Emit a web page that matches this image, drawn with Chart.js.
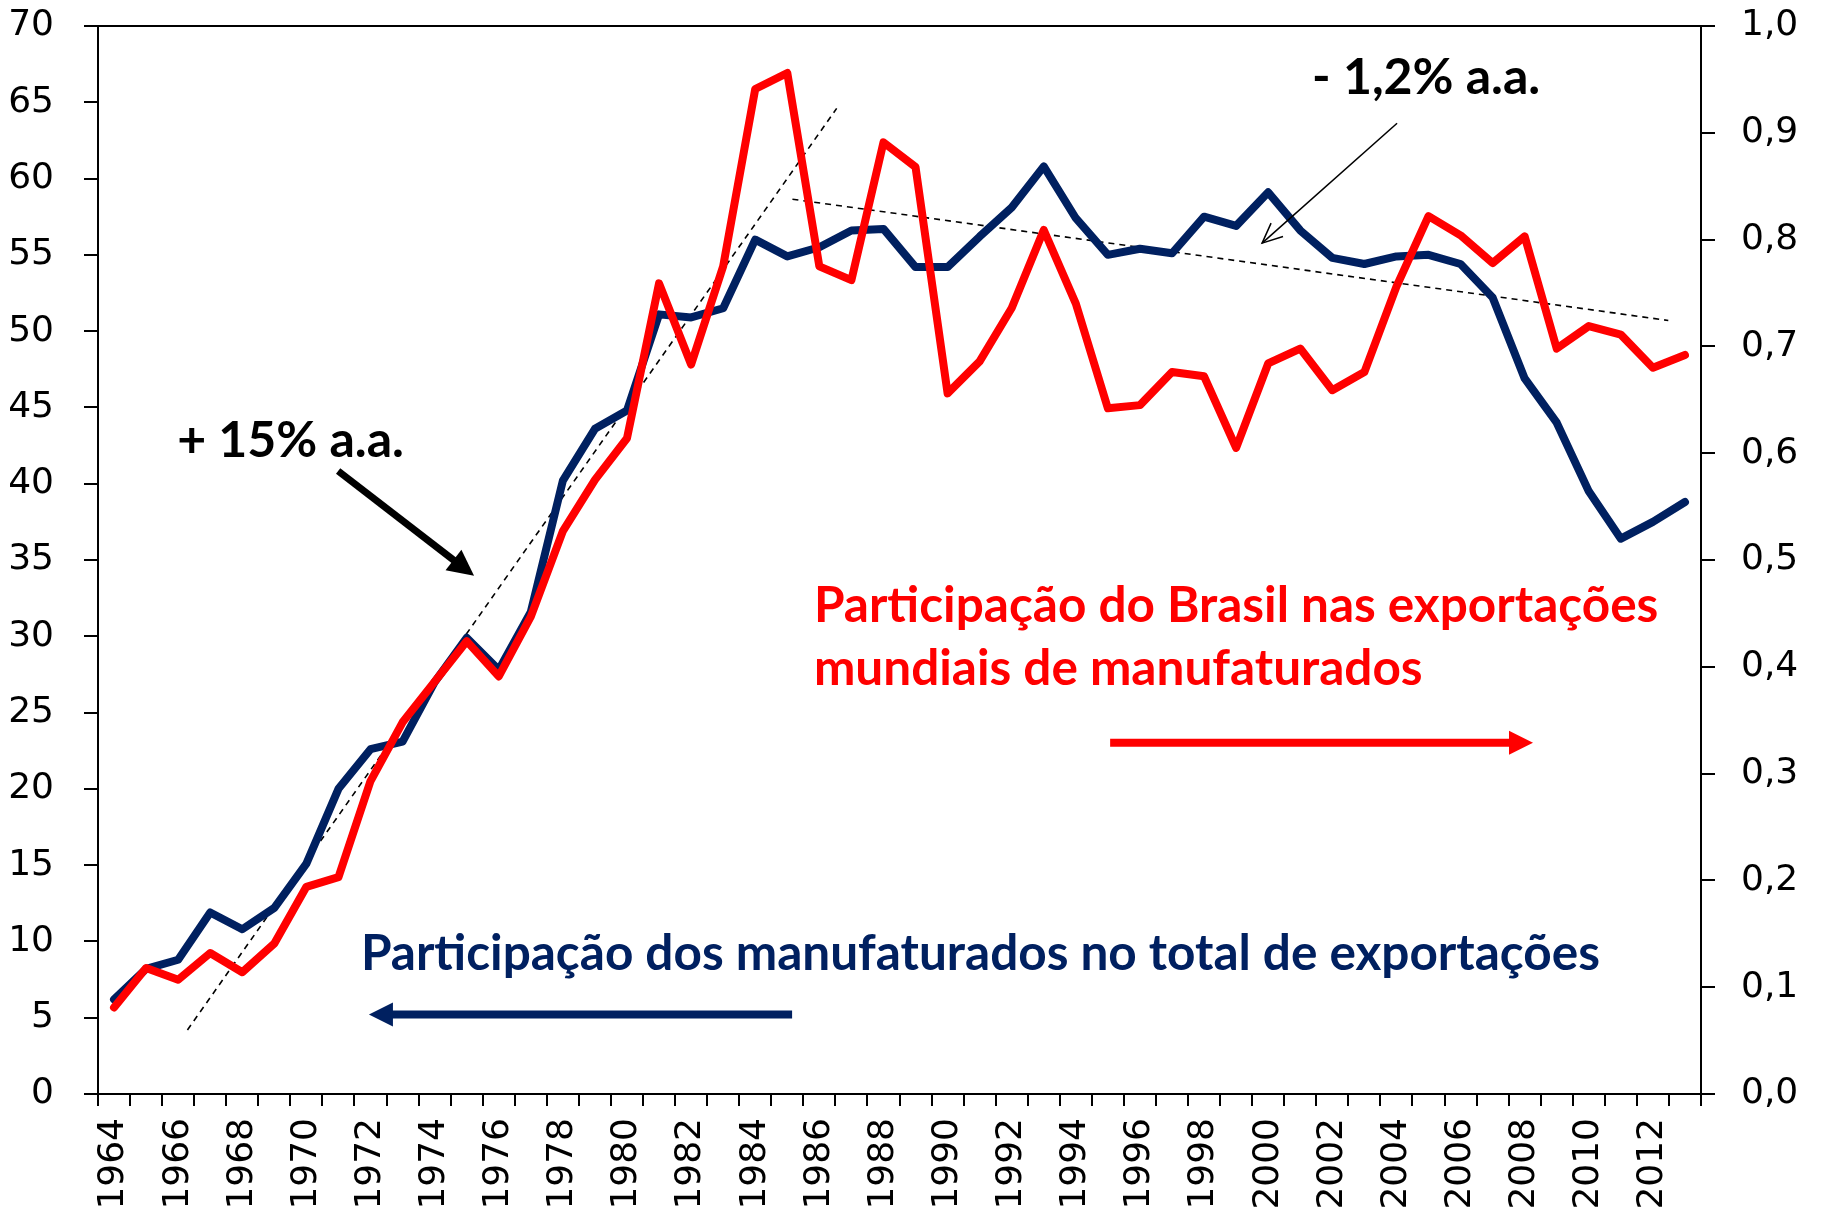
<!DOCTYPE html>
<html>
<head>
<meta charset="utf-8">
<script src="https://cdn.jsdelivr.net/npm/chart.js@4.4.1/dist/chart.umd.min.js"></script>
<style>
  html, body { margin: 0; padding: 0; background: #fff; }
  #wrap { width: 1825px; height: 1218px; position: relative; }
</style>
</head>
<body>
<div id="wrap"><canvas id="exportChart"></canvas></div>
<script>
const years = ['1964','1965','1966','1967','1968','1969','1970','1971','1972','1973',
  '1974','1975','1976','1977','1978','1979','1980','1981','1982','1983',
  '1984','1985','1986','1987','1988','1989','1990','1991','1992','1993',
  '1994','1995','1996','1997','1998','1999','2000','2001','2002','2003',
  '2004','2005','2006','2007','2008','2009','2010','2011','2012','2013'];

// share of manufactured goods in Brazil's total exports (%) - left axis
const manufShare = [6.2, 8.2, 8.8, 11.9, 10.8, 12.2, 15.1, 20.0, 22.6, 23.1,
  27.0, 29.9, 27.8, 31.6, 40.2, 43.6, 44.8, 51.1, 50.9, 51.5,
  56.0, 54.9, 55.5, 56.6, 56.7, 54.2, 54.2, 56.2, 58.1, 60.8,
  57.4, 55.0, 55.4, 55.1, 57.5, 56.9, 59.1, 56.6, 54.8, 54.4,
  54.9, 55.0, 54.4, 52.2, 46.9, 44.0, 39.5, 36.4, 37.5, 38.8];

// Brazil's share of world manufactured exports (%) - right axis
const worldShare = [0.081, 0.118, 0.107, 0.132, 0.114, 0.141, 0.194, 0.203, 0.293, 0.348,
  0.386, 0.424, 0.391, 0.447, 0.527, 0.575, 0.614, 0.759, 0.683, 0.775,
  0.941, 0.956, 0.775, 0.762, 0.891, 0.868, 0.656, 0.686, 0.736, 0.809,
  0.740, 0.642, 0.645, 0.676, 0.672, 0.605, 0.684, 0.698, 0.659, 0.676,
  0.756, 0.822, 0.804, 0.778, 0.803, 0.698, 0.719, 0.711, 0.680, 0.692];

// dashed trend lines (fractional year, left axis value)
const trendUpX = [1966.29, 1986.54];
const trendUpY = [4.2, 64.6];
const trendDownX = [1985.16, 2012.48];
const trendDownY = [58.65, 50.7];

const leftTicks = [0, 70, 5];
const rightTicks = [0, 1, 0.1];

const NAVY = '#002060';
const RED = '#ff0000';
const tickFont = { family: 'DejaVu Sans', size: 36 };

function pts(xs, ys) {
  return xs.map((x, i) => ({ x: x, y: ys[i] }));
}

function arrowHead(ctx, x1, y1, x2, y2, len, half, filled) {
  const a = Math.atan2(y2 - y1, x2 - x1);
  const bx = x2 - len * Math.cos(a), by = y2 - len * Math.sin(a);
  const px = -Math.sin(a) * half, py = Math.cos(a) * half;
  ctx.beginPath();
  ctx.moveTo(bx + px, by + py);
  ctx.lineTo(x2, y2);
  ctx.lineTo(bx - px, by - py);
  if (filled) { ctx.closePath(); ctx.fill(); } else { ctx.stroke(); }
}

// vertical axes: no extra room above/below for the end labels
function fitVertical(width) {
  return function (s) {
    s.width = width;
    s.paddingTop = 0;
    s.paddingBottom = 0;
  };
}

// texts and arrows, placed in data coordinates
const notes = {
  id: 'notes',
  afterDatasetsDraw(chart) {
    const ctx = chart.ctx;
    const xs = chart.scales.x2, ys = chart.scales.y;
    const X = v => xs.getPixelForValue(v), Y = v => ys.getPixelForValue(v);
    const area = chart.chartArea;
    ctx.save();

    // top frame line
    ctx.strokeStyle = '#000';
    ctx.lineWidth = 2;
    ctx.beginPath();
    ctx.moveTo(area.left, area.top);
    ctx.lineTo(area.right, area.top);
    ctx.stroke();

    ctx.textBaseline = 'alphabetic';
    ctx.textAlign = 'left';

    ctx.fillStyle = '#000';
    ctx.font = 'bold 50px Lato';
    ctx.fillText('+ 15% a.a.', X(1965.97), Y(41.75));
    ctx.fillText('- 1,2% a.a.', X(2001.37), Y(65.57));

    ctx.fillStyle = RED;
    ctx.font = 'bold 49.5px Lato';
    ctx.fillText('Participação do Brasil nas exportações', X(1985.83), Y(30.96));
    ctx.fillText('mundiais de manufaturados', X(1985.83), Y(26.82));

    ctx.fillStyle = NAVY;
    ctx.fillText('Participação dos manufaturados no total de exportações', X(1971.70), Y(8.15));

    // thick black arrow to the rising trend
    let x1 = X(1970.99), y1 = Y(40.83), x2 = X(1975.23), y2 = Y(33.96);
    let a = Math.atan2(y2 - y1, x2 - x1);
    ctx.strokeStyle = '#000';
    ctx.fillStyle = '#000';
    ctx.lineWidth = 7;
    ctx.beginPath();
    ctx.moveTo(x1, y1);
    ctx.lineTo(x2 - 18 * Math.cos(a), y2 - 18 * Math.sin(a));
    ctx.stroke();
    arrowHead(ctx, x1, y1, x2, y2, 26, 13, true);

    // thin arrow to the falling trend
    x1 = X(2004.02); y1 = Y(63.63); x2 = X(1999.81); y2 = Y(55.77);
    ctx.lineWidth = 1.5;
    ctx.beginPath();
    ctx.moveTo(x1, y1);
    ctx.lineTo(x2, y2);
    ctx.stroke();
    arrowHead(ctx, x1, y1, x2, y2, 20, 9, false);

    // red arrow -> right axis
    ctx.strokeStyle = RED; ctx.fillStyle = RED; ctx.lineWidth = 8;
    x1 = X(1995.07); x2 = X(2008.26); y1 = y2 = Y(23.02);
    ctx.beginPath(); ctx.moveTo(x1, y1); ctx.lineTo(x2 - 20, y2); ctx.stroke();
    arrowHead(ctx, x1, y1, x2, y2, 24, 12, true);

    // navy arrow -> left axis
    ctx.strokeStyle = NAVY; ctx.fillStyle = NAVY;
    x1 = X(1985.15); x2 = X(1971.95); y1 = y2 = Y(5.21);
    ctx.beginPath(); ctx.moveTo(x1, y1); ctx.lineTo(x2 + 20, y2); ctx.stroke();
    arrowHead(ctx, x1, y1, x2, y2, 24, 12, true);

    ctx.restore();
  }
};

const ctx = document.getElementById('exportChart').getContext('2d');
const chart = new Chart(ctx, {
  type: 'line',
  data: {
    labels: years,
    datasets: [
      {
        label: 'Participação do Brasil nas exportações mundiais de manufaturados',
        data: worldShare,
        yAxisID: 'y1',
        xAxisID: 'x',
        borderColor: RED,
        borderWidth: 8,
        pointRadius: 0,
        borderJoinStyle: 'round',
        borderCapStyle: 'round',
        tension: 0
      },
      {
        label: 'Participação dos manufaturados no total de exportações',
        data: manufShare,
        yAxisID: 'y',
        xAxisID: 'x',
        borderColor: NAVY,
        borderWidth: 8,
        pointRadius: 0,
        borderJoinStyle: 'round',
        borderCapStyle: 'round',
        tension: 0
      },
      {
        label: 'tendência 1',
        data: pts(trendUpX, trendUpY),
        xAxisID: 'x2',
        yAxisID: 'y',
        borderColor: '#000',
        borderWidth: 1.6,
        borderDash: [6, 5],
        pointRadius: 0
      },
      {
        label: 'tendência 2',
        data: pts(trendDownX, trendDownY),
        xAxisID: 'x2',
        yAxisID: 'y',
        borderColor: '#000',
        borderWidth: 1.6,
        borderDash: [6, 5],
        pointRadius: 0
      }
    ]
  },
  options: {
    responsive: true,
    maintainAspectRatio: false,
    animation: false,
    layout: { padding: { top: 26, left: 0, right: 0, bottom: 0 } },
    plugins: { legend: { display: false }, tooltip: { enabled: false } },
    scales: {
      x: {
        type: 'category',
        offset: true,
        grid: { offset: true, drawOnChartArea: false, color: '#000', lineWidth: 2, tickLength: 12 },
        border: { color: '#000', width: 2 },
        ticks: {
          autoSkip: false,
          maxRotation: 90,
          minRotation: 90,
          padding: 12,
          color: '#000',
          font: tickFont,
          callback: function (v, i) { return i % 2 === 0 ? years[i] : ''; }
        },
        afterFit: function (s) { s.height = 124; }
      },
      x2: {
        type: 'linear',
        display: false,
        min: 1963.5,
        max: 2013.5
      },
      y: {
        position: 'left',
        min: leftTicks[0],
        max: leftTicks[1],
        grid: { drawOnChartArea: false, color: '#000', lineWidth: 2, tickLength: 14 },
        border: { color: '#000', width: 2 },
        ticks: { stepSize: leftTicks[2], padding: 30, color: '#000', font: tickFont },
        afterFit: fitVertical(98)
      },
      y1: {
        position: 'right',
        min: rightTicks[0],
        max: rightTicks[1],
        grid: { drawOnChartArea: false, color: '#000', lineWidth: 2, tickLength: 14 },
        border: { color: '#000', width: 2 },
        ticks: {
          stepSize: rightTicks[2],
          padding: 26,
          color: '#000',
          font: tickFont,
          callback: function (v) { return v.toFixed(1).replace('.', ','); }
        },
        afterFit: fitVertical(124)
      }
    }
  },
  plugins: [notes]
});
</script>
</body>
</html>
